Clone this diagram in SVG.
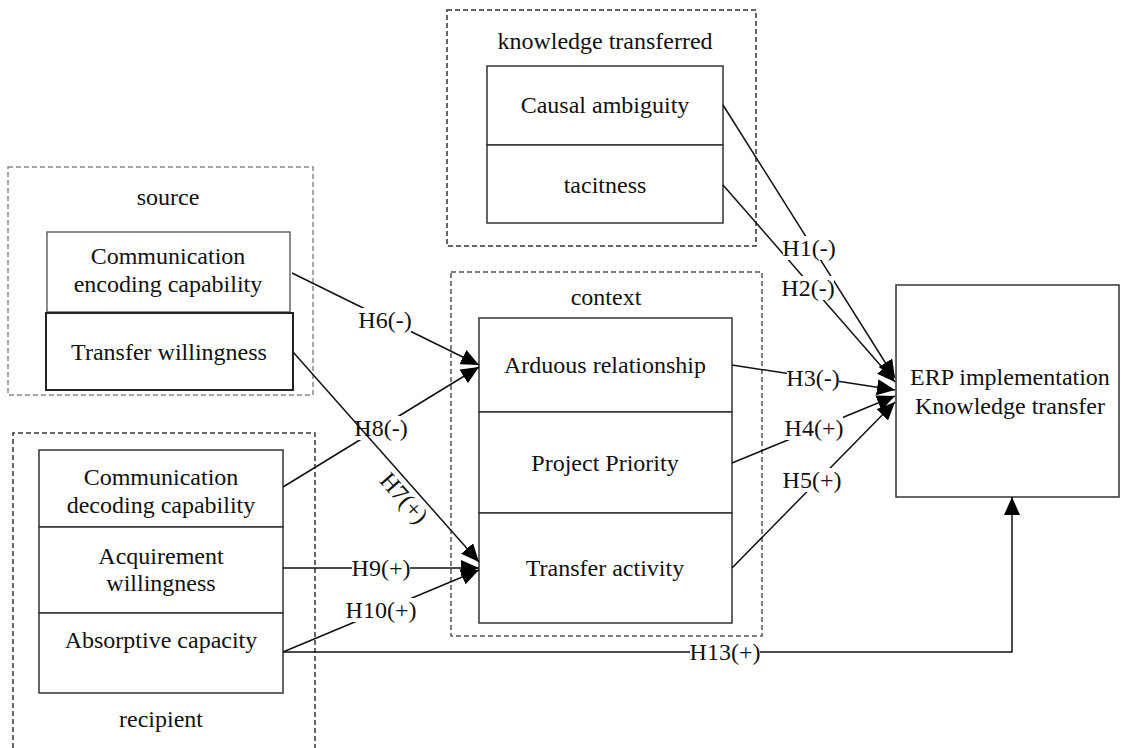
<svg xmlns="http://www.w3.org/2000/svg" width="1121" height="748" viewBox="0 0 1121 748">
<style>
text{font-family:"Liberation Serif","Times New Roman",serif;font-size:24px;fill:#111;text-anchor:middle}
.box{fill:#fff;stroke:#333;stroke-width:1.5}
.grp{fill:none;stroke:#333;stroke-width:1.5;stroke-dasharray:5 3}
.grp2{fill:none;stroke:#888;stroke-width:1.5;stroke-dasharray:5 3}
.grp3{fill:none;stroke:#555;stroke-width:1.5;stroke-dasharray:5 3}
.c{fill:none;stroke:#111;stroke-width:1.5}
.bg{fill:#fff;stroke:none}
</style>
<defs>
<marker id="ah" markerUnits="userSpaceOnUse" markerWidth="18" markerHeight="16" refX="18" refY="8" orient="auto">
<path d="M0,0 L18,8 L0,16 z" fill="#000"/>
</marker>
</defs>
<rect width="1121" height="748" fill="#fff"/>

<g id="knowledge-transferred">
<rect class="grp" x="447" y="10" width="309" height="236"/>
<text x="605" y="49">knowledge transferred</text>
</g>
<g id="causal-ambiguity">
<rect class="box" x="487" y="66" width="236" height="79"/>
<text x="605" y="113">Causal ambiguity</text>
</g>
<g id="tacitness">
<rect class="box" x="487" y="145" width="236" height="78"/>
<text x="605" y="193">tacitness</text>
</g>

<g id="source">
<rect class="grp2" x="8" y="167" width="305" height="228"/>
<text x="168" y="205">source</text>
</g>
<g id="comm-encoding">
<rect class="box" x="47" y="232" width="243" height="80" style="stroke:#666"/>
<text x="168" y="264">Communication</text>
<text x="168" y="292">encoding capability</text>
</g>
<g id="transfer-willingness">
<rect class="box" x="46" y="313" width="247" height="77" style="stroke:#222;stroke-width:2"/>
<text x="169" y="360">Transfer willingness</text>
</g>

<g id="recipient">
<path class="grp" d="M13,748 V433 H315 V748"/>
<text x="161" y="727">recipient</text>
</g>
<g id="comm-decoding">
<rect class="box" x="39" y="450" width="244" height="77"/>
<text x="161" y="485">Communication</text>
<text x="161" y="513">decoding capability</text>
</g>
<g id="acquirement-willingness">
<rect class="box" x="39" y="527" width="244" height="86"/>
<text x="161" y="564">Acquirement</text>
<text x="161" y="591">willingness</text>
</g>
<g id="absorptive-capacity">
<rect class="box" x="39" y="613" width="244" height="80"/>
<text x="161" y="648">Absorptive capacity</text>
</g>

<g id="context">
<rect class="grp3" x="451" y="272" width="311" height="364"/>
<text x="606" y="305">context</text>
</g>
<g id="arduous-relationship">
<rect class="box" x="479" y="318" width="253" height="94"/>
<text x="605" y="373">Arduous relationship</text>
</g>
<g id="project-priority">
<rect class="box" x="479" y="412" width="253" height="101"/>
<text x="605" y="471">Project Priority</text>
</g>
<g id="transfer-activity">
<rect class="box" x="479" y="513" width="253" height="110"/>
<text x="605" y="576">Transfer activity</text>
</g>

<g id="erp">
<rect class="box" x="896" y="285" width="223" height="212"/>
<text x="1010" y="385">ERP implementation</text>
<text x="1010" y="414">Knowledge transfer</text>
</g>

<g id="connectors">
<line class="c" x1="723" y1="105" x2="895" y2="378" marker-end="url(#ah)"/>
<line class="c" x1="723" y1="185" x2="895" y2="382" marker-end="url(#ah)"/>
<line class="c" x1="732" y1="365" x2="895" y2="390" marker-end="url(#ah)"/>
<line class="c" x1="732" y1="463" x2="895" y2="396" marker-end="url(#ah)"/>
<line class="c" x1="732" y1="568" x2="895" y2="402" marker-end="url(#ah)"/>
<line class="c" x1="292" y1="273" x2="479" y2="365" marker-end="url(#ah)"/>
<line class="c" x1="283" y1="487" x2="479" y2="367" marker-end="url(#ah)"/>
<line class="c" x1="283" y1="568" x2="479" y2="568" marker-end="url(#ah)"/>
<line class="c" x1="283" y1="652" x2="479" y2="570" marker-end="url(#ah)"/>
<polyline class="c" points="283,652 1012,652 1012,497" marker-end="url(#ah)"/>
<rect class="bg" x="783" y="236" width="52" height="24"/>
<rect class="bg" x="782" y="276" width="52" height="24"/>
<rect class="bg" x="787" y="366" width="52" height="24"/>
<rect class="bg" x="785" y="416" width="58" height="24"/>
<rect class="bg" x="783" y="468" width="58" height="24"/>
<rect class="bg" x="359" y="308" width="52" height="24"/>
<rect class="bg" x="355" y="416" width="52" height="24"/>
<rect class="bg" x="352" y="556" width="58" height="24"/>
<rect class="bg" x="346" y="598" width="70" height="24"/>
<rect class="bg" x="690" y="640" width="70" height="24"/>
<text x="809" y="256">H1(-)</text>
<text x="808" y="296">H2(-)</text>
<text x="813" y="386">H3(-)</text>
<text x="814" y="436">H4(+)</text>
<text x="812" y="488">H5(+)</text>
<text x="385" y="328">H6(-)</text>
<text x="381" y="436">H8(-)</text>
<text x="381" y="576">H9(+)</text>
<text x="381" y="618">H10(+)</text>
<text x="725" y="660">H13(+)</text>
<line class="c" x1="293" y1="352" x2="479" y2="562" marker-end="url(#ah)"/>
<text x="404" y="506" transform="rotate(48.6 404 498)">H7(+)</text>
</g>
</svg>
